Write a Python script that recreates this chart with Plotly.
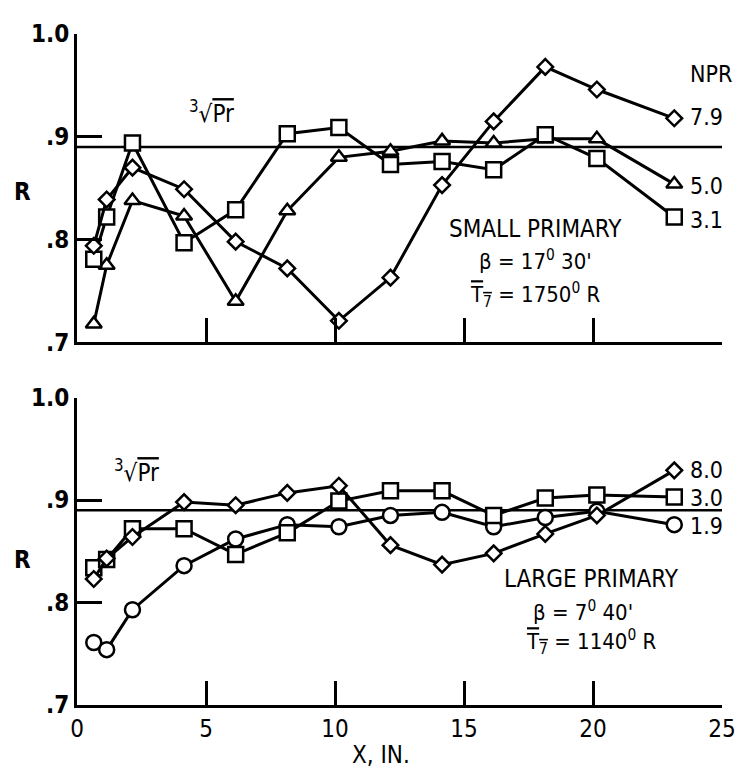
import plotly.graph_objects as go

# ---- data ----
X = [0.65, 1.15, 2.15, 4.15, 6.15, 8.15, 10.15, 12.15, 14.15, 16.15, 18.15, 20.15, 23.15]

# top panel: small primary
top_npr79 = [0.794, 0.839, 0.870, 0.849, 0.798, 0.772, 0.721, 0.763, 0.853, 0.915, 0.968, 0.946, 0.918]
top_npr50 = [0.718, 0.775, 0.838, 0.823, 0.740, 0.828, 0.880, 0.886, 0.896, 0.894, 0.898, 0.898, 0.854]
top_npr31 = [0.781, 0.822, 0.894, 0.797, 0.829, 0.903, 0.909, 0.873, 0.876, 0.868, 0.902, 0.879, 0.822]

# bottom panel: large primary
bot_npr80 = [0.823, 0.843, 0.864, 0.898, 0.895, 0.907, 0.914, 0.856, 0.837, 0.848, 0.867, 0.885, 0.929]
bot_npr30 = [0.834, 0.842, 0.872, 0.872, 0.847, 0.868, 0.899, 0.909, 0.909, 0.885, 0.902, 0.905, 0.903]
bot_npr19 = [0.761, 0.754, 0.793, 0.836, 0.862, 0.876, 0.874, 0.885, 0.888, 0.874, 0.883, 0.889, 0.876]

PR_CUBE_ROOT = 0.89
Y_TICKS = [0.7, 0.8, 0.9, 1.0]
Y_TICK_TEXT = [".7", ".8", ".9", "1.0"]
X_TICKS = [0, 5, 10, 15, 20, 25]
X_TICK_TEXT = ["0", "5", "10", "15", "20", "25"]

FONT = "DejaVu Sans Condensed, Liberation Sans Narrow, DejaVu Sans, sans-serif"

fig = go.Figure()

def add_series(xa, ya, yvals, symbol, size):
    fig.add_trace(go.Scatter(
        x=X, y=yvals, xaxis=xa, yaxis=ya, mode="lines+markers",
        line=dict(color="black", width=3),
        marker=dict(symbol=symbol, size=size, color="white",
                    line=dict(color="black", width=2.5)),
        showlegend=False, cliponaxis=False))

add_series("x", "y", top_npr50, "triangle-up", 14)
add_series("x", "y", top_npr31, "square", 15)
add_series("x", "y", top_npr79, "diamond", 12)
add_series("x2", "y2", bot_npr19, "circle", 15)
add_series("x2", "y2", bot_npr30, "square", 15)
add_series("x2", "y2", bot_npr80, "diamond", 12)

for xr, yr in (("x", "y"), ("x2", "y2")):
    fig.add_shape(type="line", xref=xr, yref=yr, x0=0, x1=25,
                  y0=PR_CUBE_ROOT, y1=PR_CUBE_ROOT,
                  line=dict(color="black", width=2.5), layer="below")

axis_common = dict(range=[0, 25], showline=True, linecolor="black", linewidth=3,
                   ticks="inside", ticklen=24, tickwidth=2.5, tickcolor="black",
                   showgrid=False, zeroline=False, tickvals=X_TICKS)
yaxis_common = dict(range=[0.7, 1.0], showline=True, linecolor="black", linewidth=3,
                    ticks="inside", ticklen=25, tickwidth=2.5, tickcolor="black",
                    showgrid=False, zeroline=False, tickvals=Y_TICKS,
                    ticktext=Y_TICK_TEXT,
                    tickfont=dict(family=FONT, size=24, color="black", weight="bold"))

fig.update_layout(
    width=740, height=763,
    margin=dict(l=69, r=14, t=16, b=66),
    paper_bgcolor="white", plot_bgcolor="white",
    font=dict(family=FONT, color="black"),
    xaxis=dict(axis_common, domain=[0, 1], anchor="y", showticklabels=False),
    yaxis=dict(yaxis_common, domain=[0.5404, 1.0], anchor="x"),
    xaxis2=dict(axis_common, domain=[0, 1], anchor="y2", showticklabels=True,
                ticktext=X_TICK_TEXT,
                tickfont=dict(family=FONT, size=24, color="black")),
    yaxis2=dict(yaxis_common, domain=[0, 0.4581], anchor="x2"),
)

ann = []
def A(text, x, y, xref, yref, size=24, xanchor="center"):
    ann.append(dict(text=text, x=x, y=y, xref=xref, yref=yref, showarrow=False,
                    xanchor=xanchor, yanchor="middle",
                    font=dict(family=FONT, size=size, color="black")))

OV = "<span style='text-decoration:overline'>"
root_txt = "<sup>3</sup>√" + OV + "Pr</span>"
A(root_txt, 5.2, 0.924, "x", "y", 24)
A(root_txt, 2.3, 0.928, "x2", "y2", 24)

A("<b>R</b>", -0.084, 0.846, "paper", "y", 24)
A("<b>R</b>", -0.084, 0.842, "paper", "y2", 24)

A("NPR", 23.7, 0.961, "x", "y", 23, "left")
A("7.9", 23.7, 0.919, "x", "y", 23, "left")
A("5.0", 23.7, 0.852, "x", "y", 23, "left")
A("3.1", 23.7, 0.819, "x", "y", 23, "left")

A("8.0", 23.7, 0.929, "x2", "y2", 23, "left")
A("3.0", 23.7, 0.902, "x2", "y2", 23, "left")
A("1.9", 23.7, 0.875, "x2", "y2", 23, "left")

A("SMALL PRIMARY", 17.77, 0.810, "x", "y", 24)
A("β = 17<sup>0</sup> 30'", 17.77, 0.780, "x", "y", 22)
A(OV + "T<sub>7</sub></span> = 1750<sup>0</sup> R", 17.77, 0.746, "x", "y", 22)

A("LARGE PRIMARY", 19.95, 0.823, "x2", "y2", 24)
A("β = 7<sup>0</sup> 40'", 19.6, 0.792, "x2", "y2", 22)
A(OV + "T<sub>7</sub></span> = 1140<sup>0</sup> R", 19.95, 0.761, "x2", "y2", 22)

A("X, IN.", 11.8, -0.075, "x2", "paper", 24)

fig.update_layout(annotations=ann)

fig.write_html("out.html")
